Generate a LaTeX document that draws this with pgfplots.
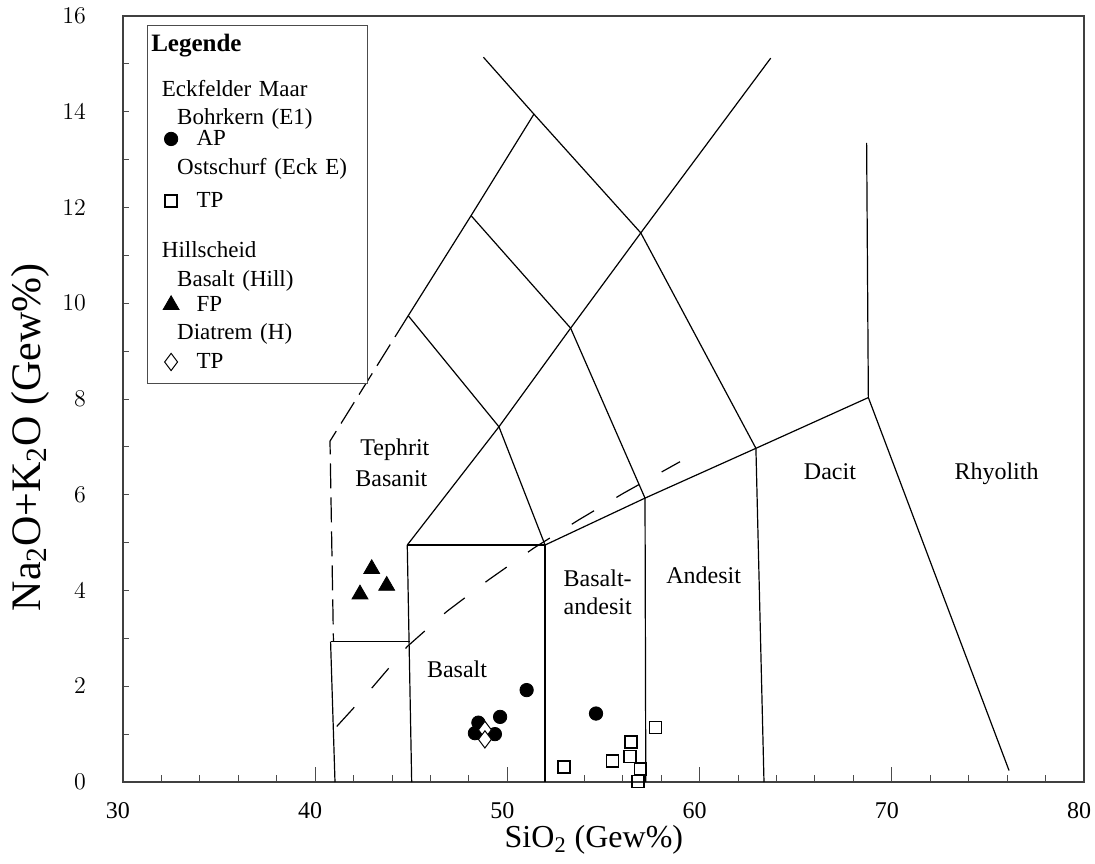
\documentclass[border=0pt]{standalone}
\usepackage{pgfplots}
\pgfplotsset{compat=1.18}
\usepackage{fontspec}
\setmainfont{Liberation Serif}
\tikzset{lt/.style={inner sep=0pt, text width=85.35pt, align=left, text height=9pt, font=\fontsize{11.5}{13}\selectfont}}
\pgfplotsset{lgimg/.style={legend image code/.code={\path (-11.5pt,0pt) (12.5pt,0pt); \draw[##1] plot coordinates {(0pt,3.5pt)};}}}
\begin{document}
\begin{tikzpicture}
\useasboundingbox (-61.5pt,-40.5pt) rectangle (486pt,391pt);
\begin{axis}[
  at={(0pt,0pt)}, anchor=south west,
  scale only axis, width=480.5pt, height=383pt,
  xmin=30, xmax=80, ymin=0, ymax=16,
  axis line style={black!75, line width=0.6pt},
  tick pos=left, tick align=inside,
  xtick={30,40,...,80}, xticklabels={30,40,50,60,70,80},
  minor x tick num=4,
  ytick={0,2,...,16}, minor y tick num=1,
  major tick length=7.5pt, minor tick length=3.5pt,
  tick style={black!70, line width=0.5pt},
  ytick style={/pgfplots/major tick length=3.2pt,/pgfplots/minor tick length=3.2pt},
  xticklabel style={font=\fontsize{12}{14}\selectfont, yshift=-6.5pt, xshift=-2.5pt},
  yticklabel style={font=\fontsize{12}{14}\selectfont, xshift=-15pt},
  xlabel={SiO\textsubscript{2} (Gew\%)},
  ylabel={Na\textsubscript{2}O+K\textsubscript{2}O (Gew\%)},
  xlabel style={font=\fontsize{16}{19}\selectfont, at={(axis description cs:0.49,-0.0757)}, anchor=center},
  ylabel style={font=\fontsize{21}{24}\selectfont, at={(axis description cs:-0.0968,0.45)}, anchor=center},
  legend style={at={(axis description cs:0.0253,0.9883)}, anchor=north west,
    draw=black!70, fill=white, inner sep=0pt, inner xsep=0pt, inner ysep=0pt,
    row sep=0pt, column sep=0pt, nodes={inner sep=0pt}, cells={anchor=base west}},
]
% --- TAS field boundaries ---
\begin{scope}[line width=0.6pt]
\addplot[black, forget plot] coordinates {(40.8,2.93) (41.03,0)};
\addplot[black, forget plot] coordinates {(40.8,2.93) (44.93,2.93)};
\addplot[black, forget plot] coordinates {(44.79,4.95) (45.02,0)};
\addplot[black, forget plot] coordinates {(44.79,4.95) (51.96,4.95) (51.96,0)};
\addplot[black, forget plot] coordinates {(51.96,4.95) (57.16,5.93) (62.93,6.97) (68.78,8.03)};
\addplot[black, forget plot] coordinates {(57.16,5.93) (57.2,0)};
\addplot[black, forget plot] coordinates {(62.93,6.97) (63.35,0)};
\addplot[black, forget plot] coordinates {(68.69,13.35) (68.78,8.03) (76.10,0.24)};
\addplot[black, forget plot] coordinates {(44.79,4.95) (49.56,7.42) (53.29,9.48) (56.94,11.47) (63.70,15.12)};
\addplot[black, forget plot] coordinates {(44.84,9.74) (49.56,7.42) (51.96,4.95)};
\addplot[black, forget plot] coordinates {(48.11,11.83) (53.29,9.48) (57.16,5.93)};
\addplot[black, forget plot] coordinates {(51.38,13.95) (56.94,11.47) (62.93,6.97)};
\addplot[black, forget plot] coordinates {(44.84,9.74) (48.11,11.83) (51.38,13.95) (48.75,15.14)};
\addplot[black, forget plot, dash pattern=on 12.5pt off 4.5pt] coordinates {(44.84,9.74) (40.77,7.12) (40.95,2.93)};
\addplot[black, forget plot, dash pattern=on 13pt off 13pt] coordinates {(41.12,1.16) (42.94,1.96) (44.79,2.83) (46.84,3.56) (49.01,4.22) (51.35,4.88) (53.69,5.47) (56.03,6.03) (58.98,6.69)};
\end{scope}
% --- field names ---
\begin{scope}[every node/.style={font=\fontsize{12}{14}\selectfont, inner sep=0pt}]
\node[anchor=base west] at (axis cs:42.33,6.83) {Tephrit};
\node[anchor=base west] at (axis cs:42.07,6.17) {Basanit};
\node[anchor=base] at (axis cs:47.38,2.19) {Basalt};
\node[anchor=base west] at (axis cs:52.91,4.08) {Basalt-};
\node[anchor=base west] at (axis cs:52.91,3.49) {andesit};
\node[anchor=base west] at (axis cs:58.25,4.15) {Andesit};
\node[anchor=base] at (axis cs:66.78,6.31) {Dacit};
\node[anchor=base] at (axis cs:75.45,6.31) {Rhyolith};
\end{scope}
% --- legend headers and data ---
\addlegendimage{empty legend}
\addlegendentry[lt, text height=13.25pt, text depth=13.2pt]{\hspace*{-22.6pt}\fontsize{12.5}{14}\selectfont\bfseries Legende}
\addlegendimage{empty legend}
\addlegendentry[lt, text depth=5.2pt]{\hspace*{-17.3pt}Eckfelder Maar}
\addlegendimage{empty legend}
\addlegendentry[lt, text depth=3pt]{\hspace*{-9.65pt}Bohrkern (E1)}
\addplot[only marks, mark=*, mark size=3.35pt, mark options={fill=black, draw=black, line width=0.4pt}, lgimg]
  coordinates {(48.49,1.24) (48.31,1.02) (49.35,1.00) (49.62,1.36) (51.00,1.92) (54.61,1.43)};
\addlegendentry[lt, text height=7.65pt, text depth=5.35pt]{AP}
\addlegendimage{empty legend}
\addlegendentry[lt, text depth=7.65pt]{\hspace*{-9.65pt}Ostschurf (Eck E)}
\addplot[only marks, mark=square, mark size=3pt, mark options={fill=white, draw=black, line width=0.8pt}, lgimg]
  coordinates {(52.95,0.31) (55.46,0.44) (56.38,0.53) (56.43,0.84) (57.70,1.14) (56.92,0.27) (56.78,0.01)};
\addlegendentry[lt, text depth=16pt]{TP}
\addlegendimage{empty legend}
\addlegendentry[lt, text depth=5.15pt]{\hspace*{-17.3pt}Hillscheid}
\addlegendimage{empty legend}
\addlegendentry[lt, text depth=3.85pt]{\hspace*{-9.65pt}Basalt (Hill)}
\addplot[only marks, mark=triangle*, mark size=4.6pt, mark options={fill=black, draw=black, line width=0.4pt}, lgimg]
  coordinates {(42.94,4.45) (43.72,4.10) (42.33,3.92)};
\addlegendentry[lt, text depth=4.85pt]{FP}
\addlegendimage{empty legend}
\addlegendentry[lt, text depth=5.65pt]{\hspace*{-9.65pt}Diatrem (H)}
\addplot[only marks, mark=diamond*, mark size=4.3pt, mark options={fill=white, draw=black, line width=0.5pt}, lgimg]
  coordinates {(48.83,1.09) (48.83,0.89)};
\addlegendentry[lt, text depth=7.25pt]{TP}
\end{axis}
\end{tikzpicture}
\end{document}
